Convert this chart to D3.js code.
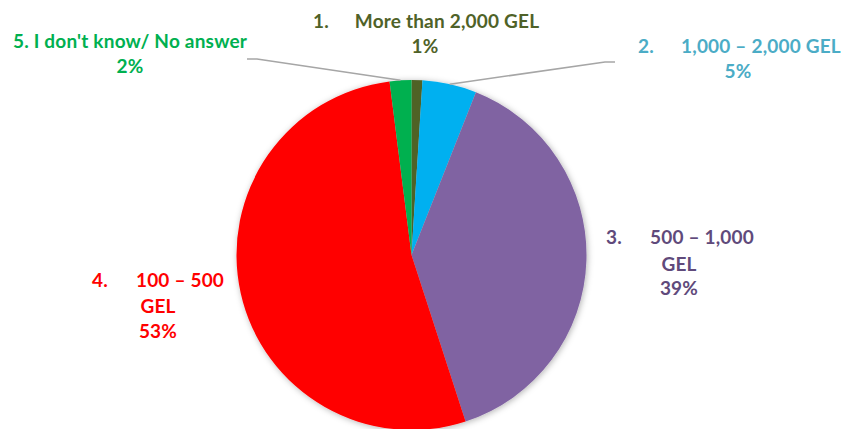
<!DOCTYPE html>
<html>
<head>
<meta charset="utf-8">
<script src="https://cdn.jsdelivr.net/npm/d3@7"></script>
<style>
  body { margin: 0; background: #fff; }
  text { font-family: Lato, "Open Sans", sans-serif; font-weight: bold; }
</style>
</head>
<body>
<div id="chart"></div>
<script>
// Data (clockwise from 12 o'clock)
const numbers = ["1.", "2.", "3.", "4.", "5."];
const categories = ["More than 2,000 GEL", "1,000 – 2,000 GEL", "500 – 1,000 GEL", "100 – 500 GEL", "I don't know/ No answer"];
const values = [1, 5, 39, 53, 2];
const pctLabels = ["1%", "5%", "39%", "53%", "2%"];

const sliceColors = ["#4F6228", "#00B0F0", "#8064A2", "#FF0000", "#00B050"];
const textColors = ["#4F6228", "#4BACC6", "#604A7B", "#FF0000", "#00B050"];

// Label layout: each line = [text, x, y, anchor]
const labelLines = [
  [["1.", 313, 28, "start"], ["More than 2,000 GEL", 447, 28, "middle"], ["1%", 425, 53, "middle"]],
  [["2.", 638, 53, "start"], ["1,000 – 2,000 GEL", 761, 53, "middle"], ["5%", 738, 78, "middle"]],
  [["3.", 606, 244, "start"], ["500 – 1,000", 702, 244, "middle"], ["GEL", 679, 271, "middle"], ["39%", 679, 295, "middle"]],
  [["4.", 92, 287, "start"], ["100 – 500", 180, 287, "middle"], ["GEL", 158, 313, "middle"], ["53%", 158, 338, "middle"]],
  [["5. I don't know/ No answer", 130, 48, "middle"], ["2%", 130, 73, "middle"]]
];

// Leader lines: slice index -> label-side points
const leaders = [
  { i: 4, pts: [[247, 59], [257, 59]] },
  { i: 1, pts: [[615, 62], [605, 62]] }
];

const width = 842, height = 429;
const cx = 411.5, cy = 255, radius = 175;

const svg = d3.select("#chart")
  .append("svg")
  .attr("width", width)
  .attr("height", height);

const defs = svg.append("defs");
const filter = defs.append("filter")
  .attr("id", "shadow")
  .attr("x", "-10%").attr("y", "-10%")
  .attr("width", "120%").attr("height", "120%");
filter.append("feDropShadow")
  .attr("dx", 1).attr("dy", 1)
  .attr("stdDeviation", 3)
  .attr("flood-color", "#000")
  .attr("flood-opacity", 0.3);

const pie = d3.pie().sort(null).value(d => d);
const arcs = pie(values);
const arc = d3.arc().innerRadius(0).outerRadius(radius);

const g = svg.append("g").attr("transform", `translate(${cx},${cy})`);

g.append("g")
  .attr("filter", "url(#shadow)")
  .selectAll("path")
  .data(arcs)
  .enter()
  .append("path")
  .attr("d", arc)
  .attr("fill", (d, i) => sliceColors[i]);

// leader lines from the slice edge to the label
leaders.forEach(l => {
  const a = arcs[l.i];
  const mid = (a.startAngle + a.endAngle) / 2;
  const edge = [cx + Math.sin(mid) * radius, cy - Math.cos(mid) * radius];
  const pts = l.pts.concat([edge]);
  svg.append("path")
    .attr("d", d3.line()(pts))
    .attr("fill", "none")
    .attr("stroke", "#A6A6A6")
    .attr("stroke-width", 1.5);
});

// labels
labelLines.forEach((lines, i) => {
  lines.forEach(l => {
    svg.append("text")
      .attr("x", l[1])
      .attr("y", l[2])
      .attr("text-anchor", l[3])
      .attr("fill", textColors[i])
      .style("font-size", "19px")
      .style("letter-spacing", "0.2px")
      .text(l[0]);
  });
});
</script>
</body>
</html>
